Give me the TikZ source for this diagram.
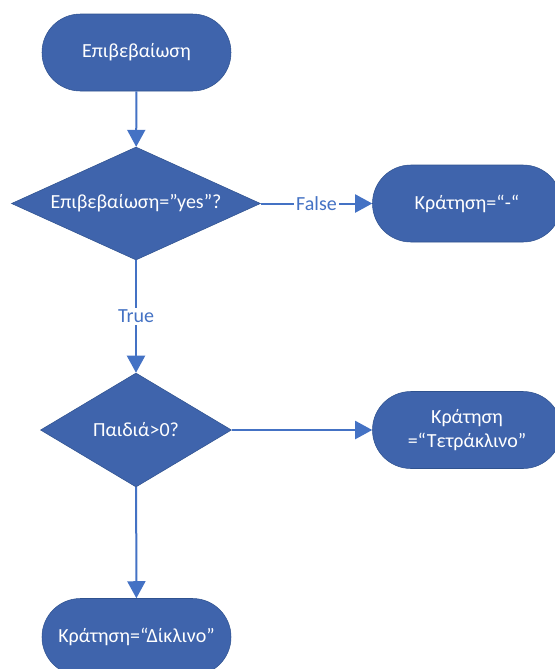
\documentclass[tikz,border=0pt]{standalone}
\usepackage{fontspec}
\setmainfont{Carlito}
\usetikzlibrary{shapes.geometric,arrows.meta}
\definecolor{boxblue}{HTML}{3F64AC}
\definecolor{edgeblue}{HTML}{2F528F}
\definecolor{lineblue}{HTML}{4472C4}
\tikzset{
	terminal/.style={draw=edgeblue, thin, fill=boxblue, text=white, rounded corners=28.8pt, minimum width=141.75pt, minimum height=57.75pt, inner sep=0pt, align=center, font=\fontsize{15}{18}\selectfont},
	decision/.style={diamond, draw=edgeblue, thin, fill=boxblue, text=white, aspect=2.2, inner sep=0pt, font=\fontsize{15}{18}\selectfont},
	flow/.style={lineblue, line width=1.5pt, -{Triangle[width=13.5pt,length=12.75pt]}},
	branch/.style={fill=white, text=lineblue, inner sep=1.5pt, font=\fontsize{15}{18}\selectfont}
}

\begin{document}
\begin{tikzpicture}[x=0.75pt, y=-0.75pt]
	\useasboundingbox (0,0) rectangle (555,669);

	\node[terminal] (start) at (136.5,52.5){Επιβεβαίωση};
	\node[decision, minimum width=186.75pt, minimum height=84.75pt] (confirm) at (136,203.5){Επιβεβαίωση=”yes”?};
	\node[terminal] (none) at (467,203.5){Κράτηση=“-“};
	\node[decision, minimum width=143.25pt, minimum height=85.5pt] (kids) at (136,430){Παιδιά>0?};
	\node[terminal] (quad) at (467,430){Κράτηση\\=“Τετράκλινο”};
	\node[terminal] (double) at (136.5,637){Κράτηση=“Δίκλινο”};

\draw[flow](start)--(confirm);
\draw[flow](confirm)--node[branch]{False}(none);
\draw[flow](confirm)--node[branch]{True}(kids);
\draw[flow](kids)--(quad);
\draw[flow](kids)--(double);
	\end{tikzpicture}
\end{document}
